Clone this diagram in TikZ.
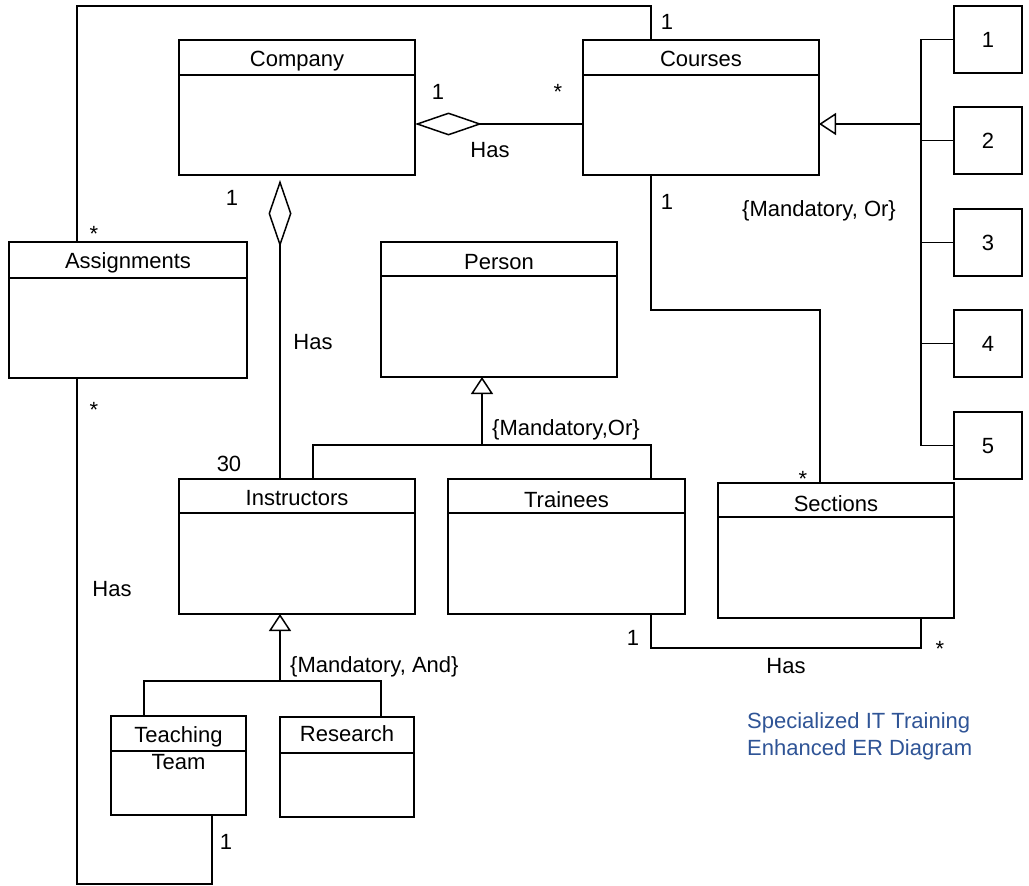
\documentclass[tikz,border=0pt]{standalone}
\usepackage{fontspec}
\setmainfont{Liberation Sans}
\usetikzlibrary{arrows.meta}
\definecolor{captionblue}{RGB}{47,84,150}
\newcommand\diagfont{\fontsize{22}{27}\selectfont}
\tikzset{
  classbox/.style={draw, line width=1.5pt, rectangle, inner sep=0pt, outer sep=0pt, anchor=north west},
  numbox/.style={classbox, minimum width=68pt, minimum height=67pt, text height=16pt, text depth=0pt, font=\diagfont},
  title/.style={anchor=base, inner sep=0pt, font=\diagfont},
  lbl/.style={anchor=base, inner sep=0pt, font=\diagfont},
  link/.style={draw, line width=1.5pt},
  aggregation/.style={link, -{Diamond[open, length=67pt, width=23pt]}},
  generalization/.style={link, -{Triangle[open, length=17pt, width=22pt]}},
}
% class box: name, left, top, width, height, header height, title baseline offset, title
\newcommand\umlclass[8]{%
  \node[classbox, minimum width=#4pt, minimum height=#5pt] (#1) at (#2,#3) {};
  \draw[line width=1.5pt] ([yshift=-#6pt]#1.north west) -- ([yshift=-#6pt]#1.north east);
  \node[title] (#1-title) at ([yshift=-#7pt]#1.north) {#8};
}
\begin{document}
\begin{tikzpicture}[x=1pt,y=-1pt]
\useasboundingbox (0,0) rectangle (1029,886);

% classes
\umlclass{company}{179}{40}{236}{135}{35}{26}{Company}
\umlclass{courses}{583}{40}{236}{135}{35}{26}{Courses}
\umlclass{assignments}{9}{242}{238}{136}{36}{26}{Assignments}
\umlclass{person}{381}{242}{236}{135}{34}{27}{Person}
\umlclass{instructors}{179}{479}{236}{135}{34}{26}{Instructors}
\umlclass{trainees}{448}{479}{237}{135}{34}{28}{Trainees}
\umlclass{sections}{718}{483}{236}{135}{34}{28}{Sections}
\umlclass{research}{280}{717}{134}{100}{36}{24}{Research}

\node[classbox, minimum width=135pt, minimum height=99pt] (teaching) at (111,716) {};
\draw[line width=1.5pt] ([yshift=-35pt]teaching.north west) -- ([yshift=-35pt]teaching.north east);
\node[font=\diagfont, align=center, inner sep=0pt] (teaching-title) at ([yshift=-32.5pt]teaching.north) {Teaching\\Team};

% course subtypes
\foreach \n/\y in {1/6,2/107,3/209,4/310,5/412}
  \node[numbox] (sub\n) at (954,\y) {\n};

% routing rails
\coordinate (top-rail) at (0,6);
\coordinate (psn-rail) at (0,445);
\coordinate (ins-rail) at (0,681);
\coordinate (crs-sec-rail) at (0,310);
\coordinate (trn-sec-rail) at (0,648);
\coordinate (bottom-rail) at (0,884);
\coordinate (bar) at (921,0);

% Assignments -- Courses over the top
\coordinate (asg-up) at ([xshift=68pt]assignments.north west);
\coordinate (crs-up) at ([xshift=68pt]courses.north west);
\draw[link] (asg-up) -- (asg-up |- top-rail) -- (crs-up |- top-rail) -- (crs-up);

% Company <>-- Courses
\coordinate (cmp-east) at ([yshift=-84pt]company.north east);
\coordinate (crs-west) at ([yshift=-84pt]courses.north west);
\draw[aggregation] (crs-west) -- (cmp-east);

% Company <>-- Instructors
\coordinate (cmp-south) at ([xshift=101pt]company.south west);
\coordinate (ins-north) at ([xshift=101pt]instructors.north west);
\draw[aggregation, shorten >=5pt] (ins-north) -- (cmp-south);

% Person generalization
\coordinate (psn-south) at ([xshift=101pt]person.south west);
\coordinate (ins-top2) at ([xshift=134pt]instructors.north west);
\coordinate (trn-north) at ([xshift=203pt]trainees.north west);
\draw[link] (ins-top2) -- (ins-top2 |- psn-rail) -- (trn-north |- psn-rail) -- (trn-north);
\draw[generalization] (psn-south |- psn-rail) -- (psn-south);

% Instructors generalization
\coordinate (ins-south) at ([xshift=101pt]instructors.south west);
\coordinate (tt-north) at ([xshift=33pt]teaching.north west);
\coordinate (res-north) at ([xshift=101pt]research.north west);
\draw[link] (tt-north) -- (tt-north |- ins-rail) -- (res-north |- ins-rail) -- (res-north);
\draw[generalization] (ins-south |- ins-rail) -- (ins-south);

% Courses generalization
\coordinate (crs-east) at ([yshift=-84pt]courses.north east);
\draw[link] (sub1.west) -- (sub1.west -| bar) -- (sub5.west -| bar) -- (sub5.west);
\foreach \n in {2,3,4}
  \draw[link] (sub\n.west -| bar) -- (sub\n.west);
\draw[generalization] (crs-east -| bar) -- (crs-east);

% Courses -- Sections
\coordinate (crs-south) at ([xshift=68pt]courses.south west);
\coordinate (sec-north) at ([xshift=102pt]sections.north west);
\draw[link] (crs-south) -- (crs-south |- crs-sec-rail) -- (sec-north |- crs-sec-rail) -- (sec-north);

% Trainees -- Sections
\coordinate (trn-south) at ([xshift=203pt]trainees.south west);
\coordinate (sec-south) at ([xshift=203pt]sections.south west);
\draw[link] (trn-south) -- (trn-south |- trn-sec-rail) -- (sec-south |- trn-sec-rail) -- (sec-south);

% Assignments -- Teaching Team
\coordinate (asg-down) at ([xshift=68pt]assignments.south west);
\coordinate (tt-south) at ([xshift=101pt]teaching.south west);
\draw[link] (asg-down) -- (asg-down |- bottom-rail) -- (tt-south |- bottom-rail) -- (tt-south);

% multiplicities, roles and constraints
\node[lbl] (m-top) at (667,30) {1};
\node[lbl] (m-cmp-crs) at (438,99) {1};
\node[lbl] (m-crs-cmp) at (558,99) {*};
\node[lbl] (has-cmp-crs) at (490,157) {Has};
\node[lbl] (m-cmp-ins) at (232,205) {1};
\node[lbl] (has-cmp-ins) at (313,349) {Has};
\node[lbl] (m-ins) at (229,471) {30};
\node[lbl] (m-asg-top) at (94,241) {*};
\node[lbl] (m-asg-bot) at (94,417) {*};
\node[lbl] (has-asg) at (112,596) {Has};
\node[lbl] (m-crs-sec) at (667,209) {1};
\node[lbl] (crs-constraint) at (819,216) {\{Mandatory, Or\}};
\node[lbl, anchor=base west] (psn-constraint) at (492,435) {\{Mandatory,Or\}};
\node[lbl] (m-sec-top) at (803,486) {*};
\node[lbl] (m-trn) at (633,645) {1};
\node[lbl] (m-sec-bot) at (940,656) {*};
\node[lbl] (has-trn-sec) at (786,673) {Has};
\node[lbl, anchor=base west] (ins-constraint) at (290,672) {\{Mandatory, And\}};
\node[lbl] (m-tt) at (226,849) {1};

% caption
\node[anchor=north west, inner sep=0pt, font=\diagfont, align=left, text=captionblue] (caption) at (747,712.5) {Specialized IT Training\\Enhanced ER Diagram};
\end{tikzpicture}
\end{document}
